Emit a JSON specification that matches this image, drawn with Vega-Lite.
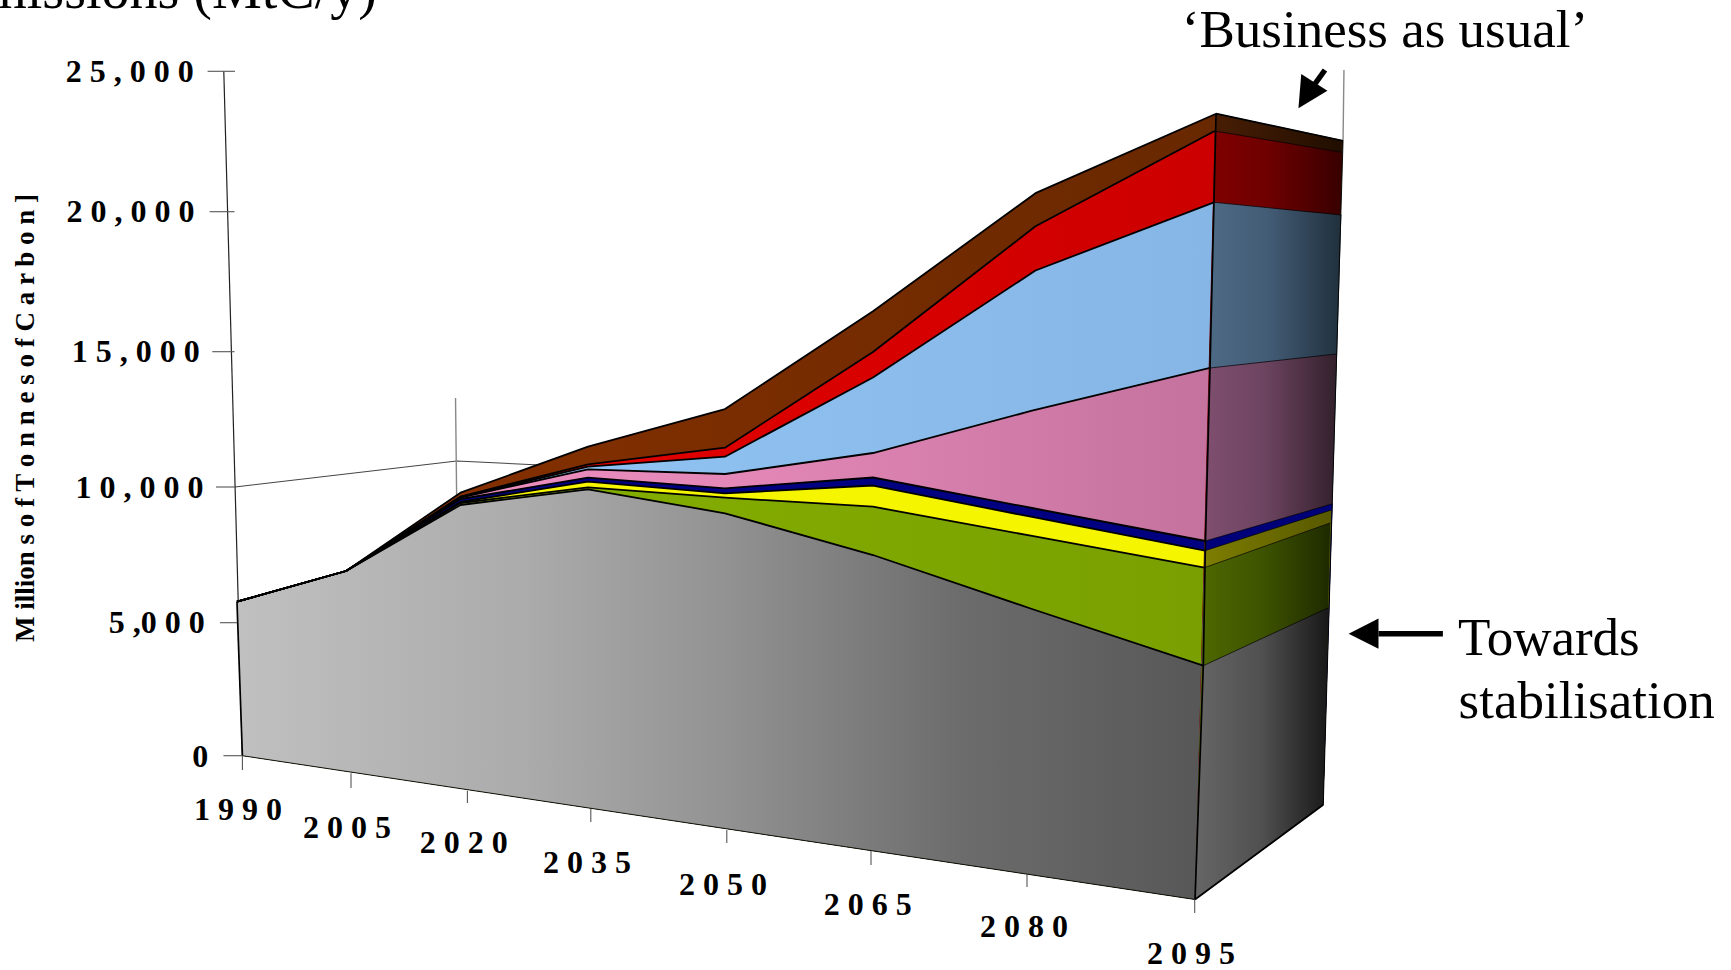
{
"$schema":"https://vega.github.io/schema/vega-lite/v6.json",
"width":1731,"height":970,"padding":0,"autosize":{"type":"none"},
"background":"white",
"config":{"view":{"stroke":null}},
"datasets":{
"front":[
{"layer":"brown","n":0,"year":1989.25,"value":5774},{"layer":"brown","n":1,"year":2004.31,"value":6905},{"layer":"brown","n":2,"year":2019.11,"value":9790},{"layer":"brown","n":3,"year":2034.66,"value":11489},{"layer":"brown","n":4,"year":2049.8,"value":12882},{"layer":"brown","n":5,"year":2065.19,"value":16443},{"layer":"brown","n":6,"year":2080.76,"value":20659},{"layer":"brown","n":7,"year":2096.91,"value":23490},{"layer":"brown","n":8,"year":2095.03,"value":-5406},{"layer":"brown","n":9,"year":1990,"value":0},
{"layer":"red","n":0,"year":1989.25,"value":5774},{"layer":"red","n":1,"year":2004.31,"value":6905},{"layer":"red","n":2,"year":2019.11,"value":9650},{"layer":"red","n":3,"year":2034.66,"value":10839},{"layer":"red","n":4,"year":2049.8,"value":11452},{"layer":"red","n":5,"year":2065.19,"value":14989},{"layer":"red","n":6,"year":2080.76,"value":19479},{"layer":"red","n":7,"year":2096.79,"value":22874},{"layer":"red","n":8,"year":2095.03,"value":-5406},{"layer":"red","n":9,"year":1990,"value":0},
{"layer":"blue","n":0,"year":1989.25,"value":5774},{"layer":"blue","n":1,"year":2004.31,"value":6905},{"layer":"blue","n":2,"year":2019.11,"value":9632},{"layer":"blue","n":3,"year":2034.66,"value":10750},{"layer":"blue","n":4,"year":2049.8,"value":11120},{"layer":"blue","n":5,"year":2065.19,"value":14047},{"layer":"blue","n":6,"year":2080.76,"value":17900},{"layer":"blue","n":7,"year":2096.72,"value":20335},{"layer":"blue","n":8,"year":2095.03,"value":-5406},{"layer":"blue","n":9,"year":1990,"value":0},
{"layer":"pink","n":0,"year":1989.25,"value":5774},{"layer":"pink","n":1,"year":2004.31,"value":6905},{"layer":"pink","n":2,"year":2019.11,"value":9613},{"layer":"pink","n":3,"year":2034.66,"value":10654},{"layer":"pink","n":4,"year":2049.8,"value":10480},{"layer":"pink","n":5,"year":2065.19,"value":11256},{"layer":"pink","n":6,"year":2080.45,"value":12820},{"layer":"pink","n":7,"year":2096.37,"value":14398},{"layer":"pink","n":8,"year":2095.03,"value":-5406},{"layer":"pink","n":9,"year":1990,"value":0},
{"layer":"navy","n":0,"year":1989.25,"value":5774},{"layer":"navy","n":1,"year":2004.31,"value":6905},{"layer":"navy","n":2,"year":2019.11,"value":9558},{"layer":"navy","n":3,"year":2034.66,"value":10344},{"layer":"navy","n":4,"year":2049.8,"value":9952},{"layer":"navy","n":5,"year":2065.19,"value":10351},{"layer":"navy","n":6,"year":2080.45,"value":9226},{"layer":"navy","n":7,"year":2095.96,"value":8010},{"layer":"navy","n":8,"year":2095.03,"value":-5406},{"layer":"navy","n":9,"year":1990,"value":0},
{"layer":"yellow","n":0,"year":1989.25,"value":5774},{"layer":"yellow","n":1,"year":2004.31,"value":6905},{"layer":"yellow","n":2,"year":2019.11,"value":9447},{"layer":"yellow","n":3,"year":2034.66,"value":10196},{"layer":"yellow","n":4,"year":2049.8,"value":9768},{"layer":"yellow","n":5,"year":2065.19,"value":10055},{"layer":"yellow","n":6,"year":2080.45,"value":8895},{"layer":"yellow","n":7,"year":2095.92,"value":7653},{"layer":"yellow","n":8,"year":2095.03,"value":-5406},{"layer":"yellow","n":9,"year":1990,"value":0},
{"layer":"green","n":0,"year":1989.25,"value":5774},{"layer":"green","n":1,"year":2004.31,"value":6905},{"layer":"green","n":2,"year":2019.11,"value":9411},{"layer":"green","n":3,"year":2034.66,"value":9989},{"layer":"green","n":4,"year":2049.8,"value":9606},{"layer":"green","n":5,"year":2065.19,"value":9274},{"layer":"green","n":6,"year":2080.45,"value":8195},{"layer":"green","n":7,"year":2095.88,"value":7027},{"layer":"green","n":8,"year":2095.03,"value":-5406},{"layer":"green","n":9,"year":1990,"value":0},
{"layer":"grey","n":0,"year":1989.25,"value":5774},{"layer":"grey","n":1,"year":2004.31,"value":6905},{"layer":"grey","n":2,"year":2019.11,"value":9337},{"layer":"grey","n":3,"year":2034.66,"value":9915},{"layer":"grey","n":4,"year":2049.8,"value":9031},{"layer":"grey","n":5,"year":2065.19,"value":7494},{"layer":"grey","n":6,"year":2080.45,"value":5505},{"layer":"grey","n":7,"year":2095.77,"value":3383},{"layer":"grey","n":8,"year":2095.03,"value":-5406},{"layer":"grey","n":9,"year":1990,"value":0}
],
"side":[
{"layer":"brown","n":0,"year":2096.91,"value":23490},{"layer":"brown","n":1,"year":2108.27,"value":22528},{"layer":"brown","n":2,"year":2106.5,"value":-1846},{"layer":"brown","n":3,"year":2095.03,"value":-5406},
{"layer":"red","n":0,"year":2096.79,"value":22874},{"layer":"red","n":1,"year":2108.16,"value":22115},{"layer":"red","n":2,"year":2106.5,"value":-1846},{"layer":"red","n":3,"year":2095.03,"value":-5406},
{"layer":"blue","n":0,"year":2096.72,"value":20335},{"layer":"blue","n":1,"year":2108.12,"value":19882},{"layer":"blue","n":2,"year":2106.5,"value":-1846},{"layer":"blue","n":3,"year":2095.03,"value":-5406},
{"layer":"pink","n":0,"year":2096.37,"value":14398},{"layer":"pink","n":1,"year":2107.66,"value":14915},{"layer":"pink","n":2,"year":2106.5,"value":-1846},{"layer":"pink","n":3,"year":2095.03,"value":-5406},
{"layer":"navy","n":0,"year":2095.96,"value":8010},{"layer":"navy","n":1,"year":2107.33,"value":9381},{"layer":"navy","n":2,"year":2106.5,"value":-1846},{"layer":"navy","n":3,"year":2095.03,"value":-5406},
{"layer":"yellow","n":0,"year":2095.92,"value":7653},{"layer":"yellow","n":1,"year":2107.23,"value":9153},{"layer":"yellow","n":2,"year":2106.5,"value":-1846},{"layer":"yellow","n":3,"year":2095.03,"value":-5406},
{"layer":"green","n":0,"year":2095.88,"value":7027},{"layer":"green","n":1,"year":2107.12,"value":8674},{"layer":"green","n":2,"year":2106.5,"value":-1846},{"layer":"green","n":3,"year":2095.03,"value":-5406},
{"layer":"grey","n":0,"year":2095.77,"value":3383},{"layer":"grey","n":1,"year":2106.98,"value":5556},{"layer":"grey","n":2,"year":2106.5,"value":-1846},{"layer":"grey","n":3,"year":2095.03,"value":-5406}
],
"lines":[
{"kind":"wall","id":"floor","n":0,"year":1988.98,"value":10000},{"kind":"wall","id":"floor","n":1,"year":2018.62,"value":10961},{"kind":"wall","id":"floor","n":2,"year":2028.82,"value":10813},
{"kind":"axis","id":"yaxis","n":0,"year":1987.43,"value":25000},{"kind":"axis","id":"yaxis","n":1,"year":1990,"value":0},
{"kind":"post","id":"mid","n":0,"year":2018.47,"value":13289},{"kind":"post","id":"mid","n":1,"year":2018.62,"value":9521},
{"kind":"post","id":"back","n":0,"year":2108.35,"value":25046},{"kind":"post","id":"back","n":1,"year":2108.27,"value":22528},
{"kind":"frame","id":"left","n":0,"year":1989.25,"value":5774},{"kind":"frame","id":"left","n":1,"year":1990,"value":0},
{"kind":"frame","id":"corner","n":0,"year":2096.91,"value":23490},{"kind":"frame","id":"corner","n":1,"year":2096.37,"value":14398},{"kind":"frame","id":"corner","n":2,"year":2095.96,"value":8010},{"kind":"frame","id":"corner","n":3,"year":2095.77,"value":3383},{"kind":"frame","id":"corner","n":4,"year":2095.03,"value":-5406},
{"kind":"frame","id":"roof","n":0,"year":2096.91,"value":23490},{"kind":"frame","id":"roof","n":1,"year":2108.27,"value":22528},
{"kind":"frame","id":"floorside","n":0,"year":2095.03,"value":-5406},{"kind":"frame","id":"floorside","n":1,"year":2106.5,"value":-1846},
{"kind":"thin","id":"base","n":0,"year":1990,"value":0},{"kind":"thin","id":"base","n":1,"year":2095.03,"value":-5406},
{"kind":"thin","id":"backedge","n":0,"year":2108.27,"value":22528},{"kind":"thin","id":"backedge","n":1,"year":2106.5,"value":-1846}
],
"ticks":[
{"year":1985.19,"year2":1988.98,"value":25000,"value2":25000},{"year":1985.47,"year2":1988.91,"value":20000,"value2":20000},{"year":1985.84,"year2":1988.91,"value":15000,"value2":15000},{"year":1986.35,"year2":1988.98,"value":10000,"value2":10000},{"year":1986.91,"year2":1989.25,"value":5000,"value2":5000},{"year":1987.38,"year2":1989.94,"value":0,"value2":0},
{"year":1990,"year2":1990,"value":0,"value2":-538},{"year":2005,"year2":2005,"value":-662,"value2":-1214},{"year":2020,"year2":2020,"value":-1316,"value2":-1778},{"year":2035,"year2":2035,"value":-2004,"value2":-2492},{"year":2050,"year2":2050,"value":-2793,"value2":-3282},{"year":2065,"year2":2065,"value":-3583,"value2":-4109},{"year":2080,"year2":2080,"value":-4447,"value2":-4936},{"year":2095,"year2":2095,"value":-5406,"value2":-5914}
],
"valueLabels":[
{"label":"2 5 , 0 0 0","year":1983.27,"value":24630},{"label":"2 0 , 0 0 0","year":1983.38,"value":19643},{"label":"1 5 , 0 0 0","year":1984.1,"value":14619},{"label":"1 0 , 0 0 0","year":1984.64,"value":9606},{"label":"5 ,0 0 0","year":1984.81,"value":4602},{"label":"0","year":1985.3,"value":-414}
],
"yearLabels":[
{"label":"1 9 9 0","year":1989.39,"value":-2417},{"label":"2 0 0 5","year":2004.45,"value":-3094},{"label":"2 0 2 0","year":2019.52,"value":-3658},{"label":"2 0 3 5","year":2034.54,"value":-4398},{"label":"2 0 5 0","year":2049.58,"value":-5237},{"label":"2 0 6 5","year":2064.65,"value":-5989},{"label":"2 0 8 0","year":2079.71,"value":-6816},{"label":"2 0 9 5","year":2094.67,"value":-7827}
],
"notes":[
{"label":"‘Business as usual’","year":2093.85,"value":25876},{"label":"Towards","year":2118.55,"value":3797},{"label":"stabilisation","year":2118.6,"value":1417}
],
"arrowHeads":[
{"id":"up","n":0,"year":2104.28,"value":23682},{"id":"up","n":1,"year":2104.53,"value":24904},{"id":"up","n":2,"year":2106.87,"value":24309},
{"id":"side","n":0,"year":2108.77,"value":4583},{"id":"side","n":1,"year":2111.44,"value":5155},{"id":"side","n":2,"year":2111.44,"value":4023}
],
"arrowShafts":[
{"id":"up","n":0,"year":2106.65,"value":25046},{"id":"up","n":1,"year":2105.72,"value":24530},
{"id":"side","n":0,"year":2111.44,"value":4583},{"id":"side","n":1,"year":2117.2,"value":4583}
]
},
"encoding":{
"x":{"field":"year","type":"quantitative","axis":null,"scale":{"domain":[1956.52,1990,2005,2020,2035,2050,2065,2080,2095,2142.97],"range":[0,242.4,351,467.4,590.8,726.8,871,1027,1194.7,1731],"nice":false,"zero":false}},
"y":{"field":"value","type":"quantitative","axis":null,"scale":{"domain":[-8056,0,5000,10000,15000,20000,25000,27539],"range":[970,755.7,622.7,487,351.7,211.7,71.3,0],"nice":false,"zero":false}}
},
"layer":[
{"data":{"name":"lines"},"transform":[{"filter":"datum.kind==='wall'"}],"mark":{"type":"line","stroke":"#444444","strokeWidth":1.1},"encoding":{"detail":{"field":"id"},"order":{"field":"n","type":"quantitative"}}},
{"data":{"name":"lines"},"transform":[{"filter":"datum.kind==='post'"}],"mark":{"type":"line","stroke":"#888888","strokeWidth":1.4},"encoding":{"detail":{"field":"id"},"order":{"field":"n","type":"quantitative"}}},
{"data":{"name":"lines"},"transform":[{"filter":"datum.kind==='axis'"}],"mark":{"type":"line","stroke":"#222222","strokeWidth":1.2},"encoding":{"detail":{"field":"id"},"order":{"field":"n","type":"quantitative"}}},

{"data":{"name":"front"},"transform":[{"filter":"datum.layer==='brown'"}],"mark":{"type":"line","strokeWidth":0,"fill":{"gradient":"linear","x1":0,"x2":1,"y1":0,"y2":0,"stops":[{"offset":0,"color":"#8c3200"},{"offset":1,"color":"#682800"}]}},"encoding":{"order":{"field":"n","type":"quantitative"}}},
{"data":{"name":"front"},"transform":[{"filter":"datum.layer==='red'"}],"mark":{"type":"line","strokeWidth":0,"fill":{"gradient":"linear","x1":0,"x2":1,"y1":0,"y2":0,"stops":[{"offset":0,"color":"#ee0000"},{"offset":1,"color":"#cc0000"}]}},"encoding":{"order":{"field":"n","type":"quantitative"}}},
{"data":{"name":"front"},"transform":[{"filter":"datum.layer==='blue'"}],"mark":{"type":"line","strokeWidth":0,"fill":{"gradient":"linear","x1":0,"x2":1,"y1":0,"y2":0,"stops":[{"offset":0,"color":"#94c8f8"},{"offset":1,"color":"#86b6e6"}]}},"encoding":{"order":{"field":"n","type":"quantitative"}}},
{"data":{"name":"front"},"transform":[{"filter":"datum.layer==='pink'"}],"mark":{"type":"line","strokeWidth":0,"fill":{"gradient":"linear","x1":0,"x2":1,"y1":0,"y2":0,"stops":[{"offset":0,"color":"#f294c8"},{"offset":0.5,"color":"#e488b8"},{"offset":1,"color":"#c4729e"}]}},"encoding":{"order":{"field":"n","type":"quantitative"}}},
{"data":{"name":"front"},"transform":[{"filter":"datum.layer==='navy'"}],"mark":{"type":"line","strokeWidth":0,"fill":"#000080"},"encoding":{"order":{"field":"n","type":"quantitative"}}},
{"data":{"name":"front"},"transform":[{"filter":"datum.layer==='yellow'"}],"mark":{"type":"line","strokeWidth":0,"fill":"#f5f500"},"encoding":{"order":{"field":"n","type":"quantitative"}}},
{"data":{"name":"front"},"transform":[{"filter":"datum.layer==='green'"}],"mark":{"type":"line","strokeWidth":0,"fill":{"gradient":"linear","x1":0,"x2":1,"y1":0,"y2":0,"stops":[{"offset":0,"color":"#8ab400"},{"offset":1,"color":"#79a000"}]}},"encoding":{"order":{"field":"n","type":"quantitative"}}},
{"data":{"name":"front"},"transform":[{"filter":"datum.layer==='grey'"}],"mark":{"type":"line","strokeWidth":0,"fill":{"gradient":"linear","x1":0,"x2":1,"y1":0,"y2":0,"stops":[{"offset":0,"color":"#c0c0c0"},{"offset":0.3,"color":"#ababab"},{"offset":0.5,"color":"#939393"},{"offset":0.75,"color":"#6c6c6c"},{"offset":1,"color":"#575757"}]}},"encoding":{"order":{"field":"n","type":"quantitative"}}},

{"data":{"name":"side"},"transform":[{"filter":"datum.layer==='brown'"}],"mark":{"type":"line","strokeWidth":0,"fill":{"gradient":"linear","x1":0,"x2":1,"y1":0,"y2":0,"stops":[{"offset":0,"color":"#4e2005"},{"offset":1,"color":"#200e00"}]}},"encoding":{"order":{"field":"n","type":"quantitative"}}},
{"data":{"name":"side"},"transform":[{"filter":"datum.layer==='red'"}],"mark":{"type":"line","strokeWidth":0,"fill":{"gradient":"linear","x1":0,"x2":1,"y1":0,"y2":0,"stops":[{"offset":0,"color":"#840000"},{"offset":0.5,"color":"#6e0000"},{"offset":1,"color":"#380000"}]}},"encoding":{"order":{"field":"n","type":"quantitative"}}},
{"data":{"name":"side"},"transform":[{"filter":"datum.layer==='blue'"}],"mark":{"type":"line","strokeWidth":0,"fill":{"gradient":"linear","x1":0,"x2":1,"y1":0,"y2":0,"stops":[{"offset":0,"color":"#4f6d88"},{"offset":0.5,"color":"#435c76"},{"offset":1,"color":"#20303c"}]}},"encoding":{"order":{"field":"n","type":"quantitative"}}},
{"data":{"name":"side"},"transform":[{"filter":"datum.layer==='pink'"}],"mark":{"type":"line","strokeWidth":0,"fill":{"gradient":"linear","x1":0,"x2":1,"y1":0,"y2":0,"stops":[{"offset":0,"color":"#835072"},{"offset":0.5,"color":"#6c4460"},{"offset":1,"color":"#33202c"}]}},"encoding":{"order":{"field":"n","type":"quantitative"}}},
{"data":{"name":"side"},"transform":[{"filter":"datum.layer==='navy'"}],"mark":{"type":"line","strokeWidth":0,"fill":"#000078"},"encoding":{"order":{"field":"n","type":"quantitative"}}},
{"data":{"name":"side"},"transform":[{"filter":"datum.layer==='yellow'"}],"mark":{"type":"line","strokeWidth":0,"fill":{"gradient":"linear","x1":0,"x2":1,"y1":0,"y2":0,"stops":[{"offset":0,"color":"#808000"},{"offset":1,"color":"#585800"}]}},"encoding":{"order":{"field":"n","type":"quantitative"}}},
{"data":{"name":"side"},"transform":[{"filter":"datum.layer==='green'"}],"mark":{"type":"line","strokeWidth":0,"fill":{"gradient":"linear","x1":0,"x2":1,"y1":0,"y2":0,"stops":[{"offset":0,"color":"#4f6a00"},{"offset":0.5,"color":"#3e5300"},{"offset":1,"color":"#1e2a00"}]}},"encoding":{"order":{"field":"n","type":"quantitative"}}},
{"data":{"name":"side"},"transform":[{"filter":"datum.layer==='grey'"}],"mark":{"type":"line","strokeWidth":0,"fill":{"gradient":"linear","x1":0,"x2":1,"y1":0,"y2":0,"stops":[{"offset":0,"color":"#666666"},{"offset":0.5,"color":"#505050"},{"offset":1,"color":"#181818"}]}},"encoding":{"order":{"field":"n","type":"quantitative"}}},

{"data":{"name":"front"},"transform":[{"filter":"datum.n<=7"}],"mark":{"type":"line","stroke":"black","strokeWidth":1.8,"strokeJoin":"round"},"encoding":{"detail":{"field":"layer"},"order":{"field":"n","type":"quantitative"}}},
{"data":{"name":"side"},"transform":[{"filter":"datum.n<=1"}],"mark":{"type":"line","stroke":"black","strokeWidth":0.7},"encoding":{"detail":{"field":"layer"},"order":{"field":"n","type":"quantitative"}}},
{"data":{"name":"lines"},"transform":[{"filter":"datum.kind==='frame'"}],"mark":{"type":"line","stroke":"black","strokeWidth":1.7},"encoding":{"detail":{"field":"id"},"order":{"field":"n","type":"quantitative"}}},
{"data":{"name":"lines"},"transform":[{"filter":"datum.kind==='thin'"}],"mark":{"type":"line","stroke":"black","strokeWidth":0.9},"encoding":{"detail":{"field":"id"},"order":{"field":"n","type":"quantitative"}}},

{"data":{"name":"ticks"},"mark":{"type":"rule","stroke":"#555555","strokeWidth":1.1},"encoding":{"x2":{"field":"year2"},"y2":{"field":"value2"}}},
{"data":{"name":"valueLabels"},"mark":{"type":"text","font":"Liberation Serif","fontWeight":"bold","fontSize":32,"align":"right","baseline":"alphabetic","fill":"black"},"encoding":{"text":{"field":"label"}}},
{"data":{"name":"yearLabels"},"mark":{"type":"text","font":"Liberation Serif","fontWeight":"bold","fontSize":32,"align":"center","baseline":"alphabetic","fill":"black"},"encoding":{"text":{"field":"label"}}},
{"data":{"values":[{"label":"M illion s o f T o n n e s o f C a r b o n ]","year":1961.16,"value":12550}]},"mark":{"type":"text","font":"Liberation Serif","fontWeight":"bold","fontSize":27,"angle":270,"align":"center","baseline":"alphabetic","fill":"black"},"encoding":{"text":{"field":"label"}}},
{"data":{"values":[{"label":"Emissions (MtC/y)","year":2008.33,"value":27254}]},"mark":{"type":"text","font":"Liberation Serif","fontSize":56,"align":"right","baseline":"alphabetic","fill":"black"},"encoding":{"text":{"field":"label"}}},
{"data":{"name":"notes"},"mark":{"type":"text","font":"Liberation Serif","fontSize":53,"align":"left","baseline":"alphabetic","fill":"black"},"encoding":{"text":{"field":"label"}}},
{"data":{"name":"arrowShafts"},"mark":{"type":"line","stroke":"black","strokeWidth":5.5},"encoding":{"detail":{"field":"id"},"order":{"field":"n","type":"quantitative"}}},
{"data":{"name":"arrowHeads"},"transform":[{"filter":"datum.id==='up'"}],"mark":{"type":"line","strokeWidth":0,"fill":"black"},"encoding":{"order":{"field":"n","type":"quantitative"}}},
{"data":{"name":"arrowHeads"},"transform":[{"filter":"datum.id==='side'"}],"mark":{"type":"line","strokeWidth":0,"fill":"black"},"encoding":{"order":{"field":"n","type":"quantitative"}}}
]
}
